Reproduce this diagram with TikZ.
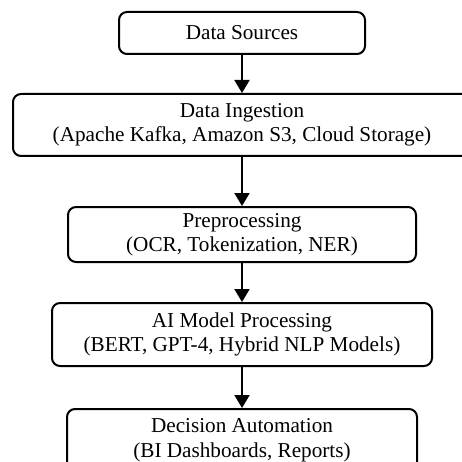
\documentclass[tikz,border=0pt]{standalone}
\usepackage{fontspec}
\setmainfont{Liberation Serif}
\usetikzlibrary{positioning}
\usetikzlibrary{arrows.meta}

\tikzset{
	stage/.style={draw, black, line width=2pt, rounded corners=8pt, align=center, inner sep=0pt, font=\fontsize{21.2}{24.5}\selectfont},
	flow/.style={line width=2pt, -{Triangle[length=13pt,width=15pt]}}
}

\begin{document}
\begin{tikzpicture}[x=1pt,y=1pt]
\useasboundingbox (0,0) rectangle (461,-462);

%stages
\node[stage, minimum width=246pt, minimum height=42pt] (sources) at (242,-33) {Data Sources};
\node[stage, minimum width=458pt, minimum height=62pt] (ingest) at (242,-125) {Data Ingestion\\(Apache Kafka, Amazon S3, Cloud Storage)};
\node[stage, minimum width=348pt, minimum height=55pt] (prep) at (242,-234.5) {Preprocessing\\(OCR, Tokenization, NER)};
\node[stage, minimum width=380pt, minimum height=63pt] (model) at (242,-334.5) {AI Model Processing\\(BERT, GPT-4, Hybrid NLP Models)};
\node[stage, minimum width=350pt, minimum height=62pt] (decide) at (242,-440) {Decision Automation\\(BI Dashboards, Reports)};

%arrows
\draw[flow] (sources) -- (ingest);
\draw[flow] (ingest) -- (prep);
\draw[flow] (prep) -- (model);
\draw[flow] (model) -- (decide);

\end{tikzpicture}
\end{document}
